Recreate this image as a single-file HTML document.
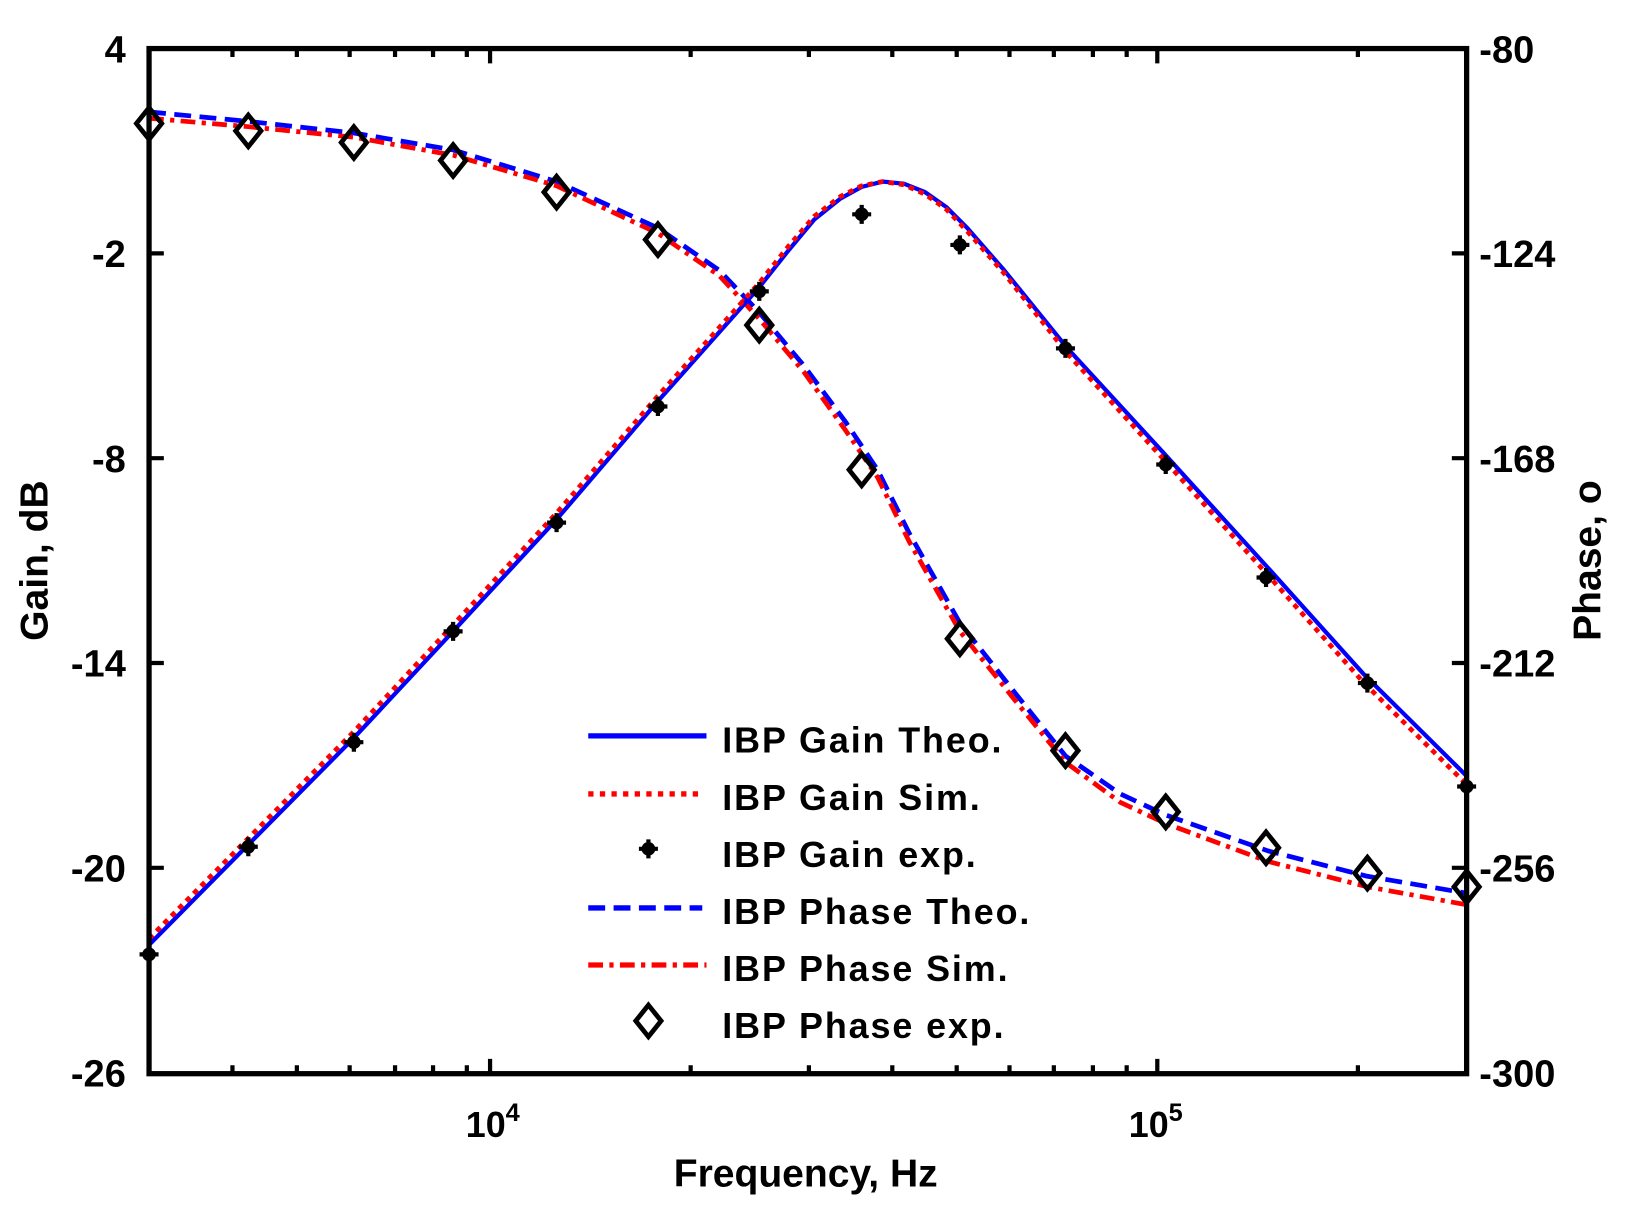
<!DOCTYPE html>
<html><head><meta charset="utf-8"><style>html,body{margin:0;padding:0;background:#fff}svg{display:block}text{font-family:"Liberation Sans",Arial,sans-serif;font-weight:bold;fill:#000}</style></head>
<body>
<svg width="1652" height="1212" viewBox="-0.8 0 1564 1148" xmlns="http://www.w3.org/2000/svg">
<rect x="-1" y="0" width="1566" height="1148" fill="#fff"/>
<g fill="none" stroke-linejoin="round">
<polyline stroke="#0000ff" stroke-width="4.5" stroke-dasharray="16,8" points="140,106 234,115 334,126 428,142 526,172 622,216 680,256 718,296 760,346 800,400 830,445 860,505 908,590 960,656 1008,716 1060,752 1103,772 1200,806 1294,830 1388,846"/>
<polyline stroke="#ff0000" stroke-width="4.5" stroke-dasharray="14,6,4,6" points="140,112 234,120 334,130 428,147 526,176 622,221 680,261 718,302 760,352 800,408 830,452 860,513 908,598 960,663 1008,722 1060,760 1103,780 1200,816 1294,840 1388,857"/>
<polyline stroke="#0000ff" stroke-width="4" points="140,895 234,800 334,699 428,598 526,492 622,380 718,272 745,238 770,208 795,188 815,177 835,172 855,174 875,182 895,196 915,216 950,256 1010,330 1100,428 1200,538 1290,638 1388,735"/>
<polyline stroke="#ff0000" stroke-width="4.5" stroke-dasharray="5,5" points="140,889 234,794 334,693 428,592 526,486 622,375 718,268 745,234 770,205 795,186 815,176 835,172 855,175 875,184 895,198 915,219 950,259 1010,335 1100,434 1200,545 1290,646 1388,743"/>
</g>
<g stroke="#000" stroke-width="4" fill="#000">
<path d="M140 895v18M131 904h18M234 793v18M225 802h18M334 694v18M325 703h18M428 589v18M419 598h18M526 486v18M517 495h18M622 376v18M613 385h18M718 267v18M709 276h18M815 194v18M806 203h18M908 223v18M899 232h18M1008 321v18M999 330h18M1103 431v18M1094 440h18M1198 538v18M1189 547h18M1294 638v18M1285 647h18M1388 736v18M1379 745h18M613 795v18M604 804h18"/>
<g stroke="none"><circle cx="140" cy="904" r="6.5"/><circle cx="234" cy="802" r="6.5"/><circle cx="334" cy="703" r="6.5"/><circle cx="428" cy="598" r="6.5"/><circle cx="526" cy="495" r="6.5"/><circle cx="622" cy="385" r="6.5"/><circle cx="718" cy="276" r="6.5"/><circle cx="815" cy="203" r="6.5"/><circle cx="908" cy="232" r="6.5"/><circle cx="1008" cy="330" r="6.5"/><circle cx="1103" cy="440" r="6.5"/><circle cx="1198" cy="547" r="6.5"/><circle cx="1294" cy="647" r="6.5"/><circle cx="1388" cy="745" r="6.5"/><circle cx="613" cy="804" r="6.5"/></g>
</g>
<g fill="none" stroke="#000" stroke-width="4.5">
<path d="M140 102l12 15-12 15-12-15z M234 109l12 15-12 15-12-15z M334 120l12 15-12 15-12-15z M428 137l12 15-12 15-12-15z M526 167l12 15-12 15-12-15z M622 212l12 15-12 15-12-15z M718 293l12 15-12 15-12-15z M815 430l12 15-12 15-12-15z M908 590l12 15-12 15-12-15z M1008 696l12 15-12 15-12-15z M1103 754l12 15-12 15-12-15z M1198 788l12 15-12 15-12-15z M1294 812l12 15-12 15-12-15z M1388 825l12 15-12 15-12-15z M613 952l12 15-12 15-12-15z"/>
</g>
<rect x="140" y="46" width="1248" height="971" fill="none" stroke="#000" stroke-width="5"/>
<g stroke="#000" stroke-width="4">
<path d="M140 240h14M140 434h14M140 628h14M140 822h14M1388 240h-14M1388 434h-14M1388 628h-14M1388 822h-14"/>
<path d="M463 1017v-14M1095 1017v-14M463 46v14M1095 46v14"/>
<path d="M219 1017v-8M280 1017v-8M330 1017v-8M373 1017v-8M409 1017v-8M441 1017v-8M653 1017v-8M765 1017v-8M844 1017v-8M905 1017v-8M955 1017v-8M997 1017v-8M1034 1017v-8M1066 1017v-8M1285 1017v-8
M219 46v8M280 46v8M330 46v8M373 46v8M409 46v8M441 46v8M653 46v8M765 46v8M844 46v8M905 46v8M955 46v8M997 46v8M1034 46v8M1066 46v8M1285 46v8"/>
</g>
<g font-size="36" text-anchor="end">
<text x="118" y="59">4</text><text x="118" y="253">-2</text><text x="118" y="447">-8</text><text x="118" y="641">-14</text><text x="118" y="835">-20</text><text x="118" y="1029">-26</text>
</g>
<g font-size="36" text-anchor="start">
<text x="1400" y="59">-80</text><text x="1400" y="253">-124</text><text x="1400" y="447">-168</text><text x="1400" y="641">-212</text><text x="1400" y="835">-256</text><text x="1400" y="1029">-300</text>
</g>
<text x="440" y="1077" font-size="34">10<tspan font-size="24" dy="-15">4</tspan></text>
<text x="1068" y="1077" font-size="34">10<tspan font-size="24" dy="-15">5</tspan></text>
<text x="762" y="1124" font-size="37" text-anchor="middle">Frequency, Hz</text>
<text transform="translate(44,531) rotate(-90)" font-size="37" text-anchor="middle">Gain, dB</text>
<text transform="translate(1515,531) rotate(-90)" font-size="37" text-anchor="middle">Phase, o</text>
<g fill="none">
<line x1="556" y1="697" x2="668" y2="697" stroke="#0000ff" stroke-width="5"/>
<line x1="556" y1="752" x2="664" y2="752" stroke="#ff0000" stroke-width="5" stroke-dasharray="5,6"/>
<line x1="556" y1="860" x2="664" y2="860" stroke="#0000ff" stroke-width="5" stroke-dasharray="16,8"/>
<line x1="556" y1="914" x2="668" y2="914" stroke="#ff0000" stroke-width="5" stroke-dasharray="14,6,4,6"/>
</g>
<g font-size="34" letter-spacing="1.8">
<text x="683" y="713">IBP Gain Theo.</text>
<text x="683" y="767">IBP Gain Sim.</text>
<text x="683" y="821">IBP Gain exp.</text>
<text x="683" y="875">IBP Phase Theo.</text>
<text x="683" y="929">IBP Phase Sim.</text>
<text x="683" y="983">IBP Phase exp.</text>
</g>
</svg>
</body></html>
